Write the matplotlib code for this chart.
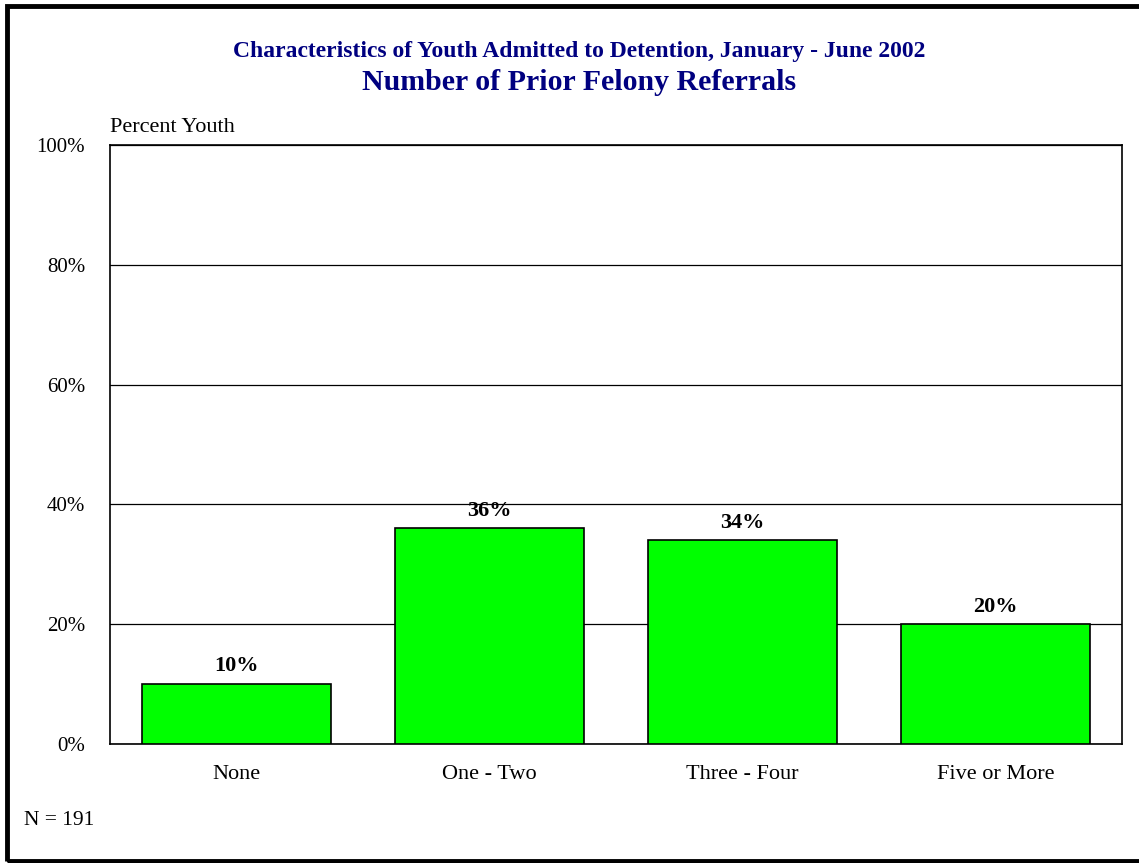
import matplotlib
matplotlib.use("Agg")
import matplotlib.pyplot as plt
from matplotlib.patches import Rectangle

plt.rcParams['font.family'] = ['Liberation Serif', 'DejaVu Serif']

# data
categories = ['None', 'One - Two', 'Three - Four', 'Five or More']
percents = [10, 36, 34, 20]
title1 = 'Characteristics of Youth Admitted to Detention, January - June 2002'
title2 = 'Number of Prior Felony Referrals'

W, H = 1139, 863
navy = '#000080'

fig = plt.figure(figsize=(W / 100, H / 100), dpi=100)

# outer frame (right side runs off the picture)
fig.patches.append(Rectangle((6.5 / W, 1 - 860.5 / H), 1.2, (860.5 - 6.5) / H,
                             transform=fig.transFigure, fill=False,
                             edgecolor='black', linewidth=3.5, zorder=0))

# plot area in pixels: left 110, right 1122, top 145, bottom 744
ax = fig.add_axes([110 / W, 1 - 744 / H, (1122 - 110) / W, (744 - 145) / H])

x = range(len(categories))
bars = ax.bar(x, percents, width=0.747, color='#00ff00', edgecolor='black',
              linewidth=1.2, zorder=3)
ax.set_xlim(-0.5, len(categories) - 0.5)
ax.set_ylim(0, 100)
ax.set_yticks([0, 20, 40, 60, 80, 100])
ax.set_yticklabels(['{}%'.format(v) for v in [0, 20, 40, 60, 80, 100]])
ax.set_xticks(list(x))
ax.set_xticklabels(categories)
ax.tick_params(axis='both', length=0, labelsize=15)
ax.tick_params(axis='x', labelsize=16, pad=15)
ax.tick_params(axis='y', pad=18)
ax.grid(axis='y', color='black', linewidth=0.9, zorder=0)
for s in ax.spines.values():
    s.set_linewidth(1.2)

for b, v in zip(bars, percents):
    ax.annotate('{}%'.format(v), (b.get_x() + b.get_width() / 2, v),
                xytext=(0, 5.5), textcoords='offset points', ha='center',
                va='bottom', fontsize=16, fontweight='bold', zorder=4)

fig.text(579 / W, 1 - 52 / H, title1, ha='center', va='center',
         fontsize=17, fontweight='bold', color=navy)
fig.text(579 / W, 1 - 83 / H, title2, ha='center', va='center',
         fontsize=21.5, fontweight='bold', color=navy)
fig.text(110 / W, 1 - 127 / H, 'Percent Youth', ha='left', va='center',
         fontsize=16)
fig.text(24 / W, 1 - 820 / H, 'N = 191', ha='left', va='center', fontsize=15.5)

fig.savefig('out.png', dpi=100)
